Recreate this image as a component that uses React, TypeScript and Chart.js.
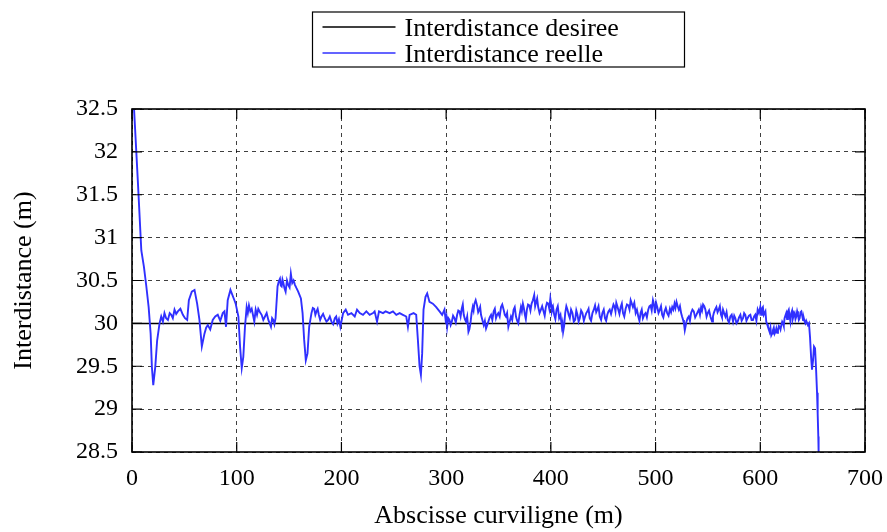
import React, { useEffect, useRef } from "react";
import { Chart, registerables } from "chart.js";

Chart.register(...registerables);

// ---------- data ----------
const xTitle = "Abscisse curviligne (m)";
const yTitle = "Interdistance (m)";
const seriesLabels = ["Interdistance desiree", "Interdistance reelle"];
const seriesColors = ["#000000", "#3030ff"];

const xRange = [0, 700];
const yRange = [28.5, 32.5];
const xStep = 100;
const yStep = 0.5;

// desired inter-distance (constant set point)
const desiredX = [0, 648];
const desiredY = [30, 30];

// measured inter-distance: main trace readings
const realX = [
  1, 2, 5.7, 8.9, 11.4, 13.7, 15.9, 17.8, 19, 20.3, 22.2, 24, 26.3, 27.9, 31, 34.3, 37.5, 40.6, 43.8, 48.6,
  52.7, 54.3, 57.1, 59.7, 62.2, 64.4, 66.7, 69.2, 72.4, 77.1, 81.9, 86.7, 89.8, 91.4, 94, 97.8, 99, 101.6, 103.2, 104.8,
  106.3, 107.9, 109.5, 111.7, 114.3, 116.8, 118.1, 120.6, 123.8, 127, 130.2, 132.7, 134.9, 137.1, 139, 141.3, 142.9, 144.4, 146.7, 149.2,
  151.7, 153, 155.6, 158.7, 161.3, 162.9, 164.4, 166, 167.6, 169.2, 171.4, 174, 176.2, 178.4, 181, 184.1, 187.3, 190.5, 193.7, 196.2,
  199, 201.6, 204.1, 206.3, 209.5, 212.7, 214.9, 217.5, 220.6, 223.8, 227, 230.2, 231.7, 234, 235.9, 239.7, 242.2, 246, 249.2, 252.4,
  255.6, 258.7, 261.9, 263.5, 265.1, 268.9, 271.4, 273, 274.6, 275.9, 277.1, 278.4, 280.3, 281.9, 284.1, 287.3, 290.5, 293.7, 296.2, 298.4,
  299.5, 301, 303.2, 305.4, 307.9, 310.5, 312.7, 314.9, 316.8, 319, 321.3, 323.2, 325.4, 327, 329.5, 331.7, 333.3, 335.9, 338.1, 340.3,
  342.9, 345.4, 347.6, 349.8, 352.4, 354.9, 357.1, 359.4, 361.9, 364.4, 366.7, 368.9, 371.4, 373.3, 375.2, 377.1, 379.4, 381.6, 384.1, 386,
  387.9, 390.5, 393, 395.2, 397.5, 399.5, 401, 403.2, 405.4, 407.9, 410.5, 411.7, 413.7, 415.9, 418.1, 420.6, 423.2, 425.4, 427.6, 430.2,
  432.7, 434.9, 437.1, 439.7, 442.2, 444.4, 446.7, 449.2, 451.7, 453.9, 456.2, 458.7, 460.9, 462.5, 464.4, 466.7, 468.9, 471.4, 474, 476.2,
  478.4, 481, 483.5, 485.7, 487.9, 490.5, 493, 495.2, 497.5, 499.4, 501.6, 504.1, 506.3, 508.6, 511.1, 513.7, 515.9, 518.1, 520, 522.2,
  524.4, 526.3, 527.9, 529.5, 531.7, 533.9, 536.5, 539, 541.3, 543.5, 545.4, 547.6, 549.8, 552.4, 554, 555.6, 558.1, 560.3, 562.5, 564.4,
  566.7, 568.9, 571.4, 574, 576.2, 578.4, 581, 583.5, 585.7, 587.9, 590.5, 593, 595.2, 597.5, 600, 601.5, 602.5, 604.1, 605.7, 607.3,
  608.9, 610.5, 612.1, 613.7, 615.3, 616.9, 618.5, 620.1, 621.7, 623.2, 624.8, 626.4, 628, 629.6, 631.2, 632.8, 634.4, 636, 637.6, 639.2,
  640.8, 642.4, 643.9, 645.5, 646.5, 647.5, 648.5, 649.4, 650.4, 651.3, 652.3, 653.3, 654.2, 654.8, 655.4, 655.7, 656.2,
];
const realY = [
  32.6, 32.49, 31.63, 30.85, 30.66, 30.43, 30.19, 29.88, 29.49, 29.28, 29.49, 29.8, 30.0, 30.08, 30.12, 30.04, 30.1, 30.16, 30.14, 30.1,
  30.04, 30.27, 30.37, 30.39, 30.23, 30.04, 29.73, 29.88, 29.98, 30.04, 30.1, 30.12, 29.96, 30.27, 30.39, 30.27, 30.23, 30.08, 29.73, 29.48,
  29.61, 29.96, 30.19, 30.21, 30.17, 30.02, 30.16, 30.17, 30.1, 30.08, 30.04, 29.96, 30.04, 30.06, 30.43, 30.52, 30.43, 30.48, 30.37, 30.45,
  30.58, 30.47, 30.45, 30.37, 30.29, 30.12, 29.81, 29.57, 29.65, 29.96, 30.12, 30.17, 30.14, 30.1, 30.08, 30.06, 30.04, 30.02, 30.06, 30.0,
  29.96, 30.12, 30.16, 30.1, 30.12, 30.08, 30.16, 30.12, 30.1, 30.14, 30.1, 30.12, 30.14, 30.02, 30.14, 30.12, 30.14, 30.12, 30.14, 30.1,
  30.12, 30.1, 30.08, 29.96, 30.1, 30.12, 30.1, 29.81, 29.5, 29.4, 29.65, 30.16, 30.31, 30.35, 30.25, 30.23, 30.19, 30.14, 30.1, 30.16,
  30.04, 29.96, 30.04, 30.02, 30.06, 30.1, 30.14, 30.17, 30.1, 30.02, 29.9, 30.0, 30.19, 30.23, 30.21, 30.16, 30.1, 29.98, 29.94, 30.02,
  30.1, 30.14, 30.06, 30.12, 30.19, 30.16, 30.08, 29.96, 30.08, 30.16, 30.08, 30.0, 30.19, 30.23, 30.1, 30.16, 30.21, 30.23, 30.33, 30.25,
  30.19, 30.16, 30.14, 30.19, 30.23, 30.29, 30.14, 30.1, 30.16, 30.06, 29.96, 29.9, 30.12, 30.16, 30.06, 30.12, 30.04, 30.1, 30.06, 30.12,
  30.08, 30.14, 30.06, 30.12, 30.21, 30.16, 30.08, 30.12, 30.06, 30.1, 30.16, 30.17, 30.19, 30.24, 30.16, 30.19, 30.12, 30.17, 30.21, 30.27,
  30.19, 30.12, 30.08, 30.12, 30.06, 30.12, 30.16, 30.21, 30.27, 30.12, 30.19, 30.16, 30.1, 30.14, 30.12, 30.17, 30.19, 30.23, 30.25, 30.16,
  30.12, 30.04, 29.92, 30.02, 30.08, 30.12, 30.14, 30.1, 30.16, 30.19, 30.22, 30.16, 30.12, 30.08, 30.02, 30.12, 30.19, 30.16, 30.1, 30.16,
  30.08, 30.04, 30.08, 30.02, 30.06, 30.02, 30.1, 30.06, 30.1, 30.06, 30.1, 30.04, 30.1, 30.16, 30.19, 30.17, 30.19, 30.12, 30.02, 29.96,
  29.9, 29.86, 29.92, 29.88, 29.94, 29.92, 29.96, 29.98, 30.0, 30.06, 30.12, 30.14, 30.08, 30.12, 30.06, 30.12, 30.08, 30.1, 30.06, 30.14,
  30.04, 30.02, 30.03, 29.98, 30.0, 29.84, 29.61, 29.46, 29.57, 29.73, 29.71, 29.46, 29.19, 28.95, 28.68, 28.5, 28.3,
];

// measured inter-distance: extra readings of the small fast spikes (noise band)
const spikeX = [
  29.5, 32.6, 36, 39, 42.2, 46.2, 50.6, 70.8, 74.7, 79.5, 84.3, 88.3,
  110.6, 113, 115.5, 119.4, 122.2, 125.4, 128.6, 131.5, 133.8, 136,
  140.2, 142.1, 143.7, 145.6, 148, 150.5, 152.4, 154.3, 157.1,
  172.7, 175.1, 177.3, 179.7, 182.5, 185.7, 188.9, 192.1, 195, 197.6,
  300.3, 302.1, 304.3, 306.6, 309.2, 311.6, 313.8, 315.9, 317.9, 320.1, 322.2, 324.3, 326.2, 328.2, 330.6, 332.5, 334.6, 337, 339.2, 341.6,
  344.1, 346.5, 348.7, 351.1, 353.6, 356, 358.2, 360.6, 363.1, 365.5, 367.8, 370.1, 372.3, 374.2, 376.1, 378.2, 380.5, 382.8, 385, 386.9,
  389.2, 391.7, 394.1, 396.3, 398.5,
  400.3, 402.1, 404.3, 406.6, 409.2, 411.1, 412.7, 414.8, 417, 419.3, 421.9, 424.3, 426.5, 428.9, 431.5, 433.8, 436, 438.4, 441, 443.3,
  445.5, 448, 450.5, 452.8, 455, 457.5, 459.8, 461.7, 463.5, 465.5, 467.8, 470.1, 472.7, 475.1, 477.3, 479.7, 482.2, 484.6, 486.8, 489.2,
  491.7, 494.1, 496.3, 498.5,
  500.5, 502.8, 505.2, 507.4, 509.8, 512.4, 514.8, 517, 519, 521.1, 523.3, 525.3, 527.1, 528.7, 530.6, 532.8, 535.2, 537.8, 540.1, 542.4,
  544.4, 546.5, 548.7, 551.1, 553.2, 554.8, 556.8, 559.2, 561.4, 563.4, 565.5, 567.8, 570.1, 572.7, 575.1, 577.3, 579.7, 582.2, 584.6, 586.8,
  589.2, 591.7, 594.1, 596.3, 598.7,
  600.8, 603.3, 604.9, 606.5, 608.1, 609.7, 611.3, 612.9, 614.5, 616.1, 617.7, 619.3, 620.9, 622.4, 624, 625.6, 627.2, 628.8, 630.4, 632,
  633.6, 635.2, 636.8, 638.4, 640, 641.6, 643.1,
];
const spikeY = [
  30.02, 30.06, 30.12, 30.06, 30.11, 30.17, 30.06, 29.95, 29.93, 30.08, 30.03, 30.14,
  30.12, 30.14, 30.1, 30.1, 30.13, 30.04, 30.12, 30.0, 30.06, 29.99,
  30.49, 30.44, 30.51, 30.41, 30.5, 30.42, 30.52, 30.5, 30.41,
  30.18, 30.1, 30.17, 30.04, 30.11, 30.02, 30.08, 29.99, 30.08, 30.05,
  30.08, 30.06, 29.98, 30.09, 30.01, 30.15, 30.08, 30.22, 30.05, 30.08, 29.93, 30.12, 30.15, 30.27, 30.13, 30.19, 30.04, 30.03, 29.98, 30.07,
  30.04, 30.17, 30.1, 30.08, 30.22, 30.1, 30.12, 30.02, 30.04, 30.19, 30.03, 30.1, 30.14, 30.18, 30.05, 30.22, 30.15, 30.27, 30.2, 30.29,
  30.12, 30.2, 30.09, 30.24, 30.17,
  30.22, 30.19, 30.05, 30.2, 30.1, 30.0, 29.97, 30.2, 30.1, 30.16, 30.02, 30.15, 30.02, 30.15, 30.03, 30.12, 30.17, 30.03, 30.16, 30.13,
  30.2, 30.04, 30.16, 30.03, 30.14, 30.11, 30.22, 30.14, 30.2, 30.11, 30.23, 30.08, 30.22, 30.16, 30.23, 30.24, 30.16, 30.03, 30.16, 30.1,
  30.07, 30.2, 30.15, 30.22,
  30.24, 30.12, 30.2, 30.07, 30.18, 30.09, 30.13, 30.16, 30.18, 30.2, 30.2, 30.08, 30.0, 29.97, 30.06, 30.03, 30.16, 30.07, 30.13, 30.1,
  30.15, 30.2, 30.08, 30.15, 30.05, 30.08, 30.16, 30.13, 30.2, 30.07, 30.12, 30.13, 30.01, 30.1, 30.09, 30.0, 30.07, 30.03, 30.12, 30.03,
  30.09, 30.04, 30.08, 30.03, 30.12,
  30.1, 30.1, 30.14, 29.99, 29.93, 29.95, 29.88, 29.95, 29.9, 29.89, 29.97, 29.93, 30.02, 29.97, 30.09, 30.05, 30.16, 30.02, 30.15, 30.1,
  30.05, 30.14, 30.04, 30.13, 30.09, 30.06, 30.0,
];

// ---------- styling ----------
const FONT = "'Liberation Serif', 'Times New Roman', serif";
const TICK_SIZE = 24;
const TEXT_SIZE = 26;

const fmt = (v: number) => String(Math.round(v * 10) / 10);

const framePlugin = {
  id: "frameTicks",
  afterDatasetsDraw(chart: any) {
    const { ctx, chartArea } = chart;
    const { left, right, top, bottom } = chartArea;
    const xs = chart.scales.x;
    const ys = chart.scales.y;
    const tl = 10;
    ctx.save();
    ctx.strokeStyle = "#000";
    ctx.lineWidth = 1.2;
    ctx.beginPath();
    xs.ticks.forEach((t: any) => {
      const px = xs.getPixelForValue(t.value);
      ctx.moveTo(px, bottom);
      ctx.lineTo(px, bottom - tl);
      ctx.moveTo(px, top);
      ctx.lineTo(px, top + tl);
    });
    ys.ticks.forEach((t: any) => {
      const py = ys.getPixelForValue(t.value);
      ctx.moveTo(left, py);
      ctx.lineTo(left + tl, py);
      ctx.moveTo(right, py);
      ctx.lineTo(right - tl, py);
    });
    ctx.stroke();
    ctx.lineWidth = 1.6;
    ctx.strokeRect(left, top, right - left, bottom - top);
    ctx.restore();
  },
};

const boxLegendPlugin = {
  id: "boxLegend",
  afterDraw(chart: any) {
    const { ctx, chartArea } = chart;
    const cx = (chartArea.left + chartArea.right) / 2;
    const w = 372;
    const h = 55;
    const bx = cx - w / 2;
    const by = chartArea.top - 97;
    ctx.save();
    ctx.fillStyle = "#fff";
    ctx.fillRect(bx, by, w, h);
    ctx.strokeStyle = "#000";
    ctx.lineWidth = 1.2;
    ctx.strokeRect(bx, by, w, h);
    ctx.font = `${TEXT_SIZE}px ${FONT}`;
    ctx.textBaseline = "alphabetic";
    ctx.textAlign = "left";
    chart.data.datasets.forEach((ds: any, i: number) => {
      const rowY = by + 15 + i * 26;
      ctx.strokeStyle = ds.borderColor;
      ctx.lineWidth = 1.3;
      ctx.beginPath();
      ctx.moveTo(bx + 10, rowY);
      ctx.lineTo(bx + 83, rowY);
      ctx.stroke();
      ctx.fillStyle = "#000";
      ctx.fillText(ds.label, bx + 92, rowY + 8.5);
    });
    ctx.restore();
  },
};

export default function App() {
  const canvasRef = useRef<HTMLCanvasElement | null>(null);

  useEffect(() => {
    const canvas = canvasRef.current;
    if (!canvas) return;
    const desired = desiredX.map((x, i) => ({ x, y: desiredY[i] }));
    const real = realX
      .map((x, i) => ({ x, y: realY[i] }))
      .concat(spikeX.map((x, i) => ({ x, y: spikeY[i] })))
      .sort((a, b) => a.x - b.x);
    const tickFont = { family: FONT, size: TICK_SIZE };
    const titleFont = { family: FONT, size: TEXT_SIZE };
    const chart = new Chart(canvas, {
      type: "line",
      data: {
        datasets: [
          {
            label: seriesLabels[0],
            data: desired,
            borderColor: seriesColors[0],
            backgroundColor: seriesColors[0],
            borderWidth: 1.5,
            pointRadius: 0,
            order: 1,
          },
          {
            label: seriesLabels[1],
            data: real,
            borderColor: seriesColors[1],
            backgroundColor: seriesColors[1],
            borderWidth: 1.9,
            pointRadius: 0,
            order: 0,
          },
        ],
      },
      options: {
        animation: false,
        responsive: false,
        layout: { padding: { top: 109, right: 22, left: 0, bottom: 0 } },
        plugins: { legend: { display: false }, tooltip: { enabled: false } },
        elements: { line: { tension: 0 } },
        scales: {
          x: {
            type: "linear",
            min: xRange[0],
            max: xRange[1],
            afterFit: (s: any) => {
              s.height = 80;
              s.paddingLeft = 0;
              s.paddingRight = 0;
            },
            ticks: { stepSize: xStep, color: "#000", font: tickFont, padding: 12, maxRotation: 0, callback: (v: any) => fmt(v) },
            grid: { color: "rgba(0,0,0,0.75)", lineWidth: 1, drawTicks: false },
            border: { display: false, dash: [4, 4] },
            title: {
              display: true,
              text: xTitle,
              color: "#000",
              font: titleFont,
              padding: { top: 0, bottom: 0 },
            },
          },
          y: {
            type: "linear",
            min: yRange[0],
            max: yRange[1],
            afterFit: (s: any) => {
              s.width = 132;
              s.paddingTop = 0;
              s.paddingBottom = 0;
            },
            ticks: { stepSize: yStep, color: "#000", font: tickFont, padding: 14, callback: (v: any) => fmt(v) },
            grid: { color: "rgba(0,0,0,0.75)", lineWidth: 1, drawTicks: false },
            border: { display: false, dash: [4, 4] },
            title: {
              display: true,
              text: yTitle,
              color: "#000",
              font: titleFont,
              padding: { top: 9, bottom: 0 },
            },
          },
        },
      },
      plugins: [framePlugin, boxLegendPlugin],
    } as any);
    return () => chart.destroy();
  }, []);

  return (
    <div style={{ position: "absolute", left: 0, top: 0, width: 887, height: 532, background: "#fff" }}>
      <canvas ref={canvasRef} width={887} height={532} style={{ display: "block" }} />
    </div>
  );
}
